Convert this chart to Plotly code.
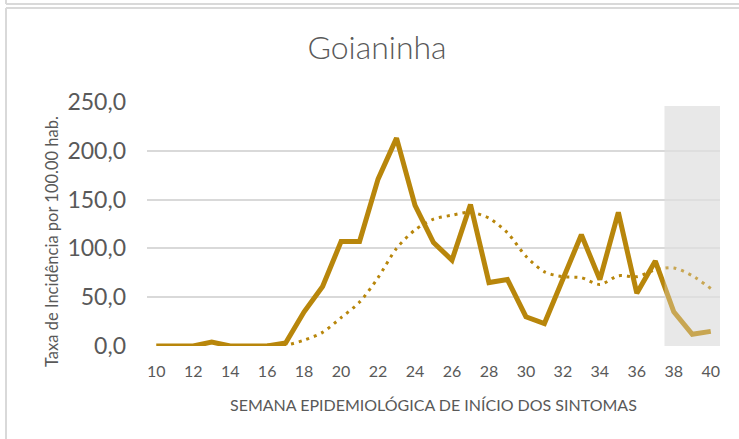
import plotly.graph_objects as go

# ---- data ----
weeks = [10, 11, 12, 13, 14, 15, 16, 17, 18, 19, 20, 21, 22, 23, 24, 25,
         26, 27, 28, 29, 30, 31, 32, 33, 34, 35, 36, 37, 38, 39, 40]
incidence = [0, 0, 0, 4, 0, 0, 0, 3, 35, 61, 107, 107, 171, 213, 144, 106,
             88, 145, 65, 68, 30, 23, 68, 114, 68, 137, 54, 87, 35, 12, 15]
trend_weeks = [16, 17, 18, 19, 20, 21, 22, 23, 24, 25, 26, 27, 28,
               29, 30, 31, 32, 33, 34, 35, 36, 37, 38, 39, 40]
trend = [1, 1, 6, 14, 29, 45, 70, 100, 119, 130, 134, 137, 131,
         116, 92, 76, 71, 70, 63, 72, 71, 78, 80, 72, 59]
x_ticks = [10, 12, 14, 16, 18, 20, 22, 24, 26, 28, 30, 32, 34, 36, 38, 40]
y_ticks = [0, 50, 100, 150, 200, 250]
y_tick_labels = ["0,0", "50,0", "100,0", "150,0", "200,0", "250,0"]

W, H = 739, 439
L, R, T, B = 147, 19, 102, 93
FONT = "Lato"
GREY = "#595959"
GOLD = "#B8860B"

fig = go.Figure()
fig.add_trace(go.Scatter(
    x=trend_weeks, y=trend, mode="lines",
    line=dict(color=GOLD, width=3, dash="3px,5px", shape="spline", smoothing=0.8),
    hoverinfo="skip", showlegend=False))
fig.add_trace(go.Scatter(
    x=weeks, y=incidence, mode="lines",
    line=dict(color=GOLD, width=5), showlegend=False))

pw, ph = W - L - R, H - T - B
def px(x):
    return (x - L) / pw
def py(y):
    return (H - B - y) / ph

shapes = [
    # shaded recent weeks
    dict(type="rect", xref="x", yref="y", x0=37.5, x1=40.5, y0=0, y1=246,
         fillcolor="#E8E8E8", line_width=0, layer="below"),
    dict(type="rect", xref="x", yref="y", x0=37.5, x1=40.5, y0=0, y1=246,
         fillcolor="rgba(232,232,232,0.32)", line_width=0, layer="above"),
    # frame lines
    dict(type="line", xref="paper", yref="paper", x0=px(6), x1=px(W + 5), y0=py(4), y1=py(4),
         line=dict(color="#D9D9D9", width=2)),
    dict(type="line", xref="paper", yref="paper", x0=px(6), x1=px(6), y0=py(-2), y1=py(4),
         line=dict(color="#D9D9D9", width=2)),
    dict(type="line", xref="paper", yref="paper", x0=px(6), x1=px(W + 5), y0=py(8), y1=py(8),
         line=dict(color="#D9D9D9", width=2)),
    dict(type="line", xref="paper", yref="paper", x0=px(6), x1=px(6), y0=py(8), y1=py(H + 5),
         line=dict(color="#D9D9D9", width=2)),
]

annotations = [
    dict(text="SEMANA EPIDEMIOLÓGICA DE INÍCIO DOS SINTOMAS", xref="paper", yref="paper",
         x=px(433), y=py(404), xanchor="center", yanchor="middle", showarrow=False,
         font=dict(size=16, color=GREY, family=FONT)),
    dict(text="Taxa de Incidência por 100.00 hab.", xref="paper", yref="paper",
         x=px(52), y=py(242), xanchor="center", yanchor="middle", showarrow=False,
         textangle=-90, font=dict(size=16.5, color=GREY, family=FONT)),
]

fig.update_layout(
    width=W, height=H,
    margin=dict(l=L, r=R, t=T, b=B),
    paper_bgcolor="white", plot_bgcolor="white",
    font=dict(family=FONT, color=GREY),
    title=dict(text="Goianinha", x=377 / W, xref="container", xanchor="center",
               y=1 - 48 / H, yref="container", yanchor="middle",
               font=dict(size=32, color=GREY, weight=300)),
    shapes=shapes,
    annotations=annotations,
    xaxis=dict(range=[9.5, 40.5], tickvals=x_ticks, ticktext=[str(v) for v in x_ticks],
               showgrid=False, zeroline=False, showline=False, ticks="",
               ticklabelstandoff=14,
               tickfont=dict(size=16, color=GREY)),
    yaxis=dict(range=[0, 250], tickvals=y_ticks, ticktext=y_tick_labels,
               showgrid=True, gridcolor="#D9D9D9", gridwidth=1.5,
               zeroline=False, showline=False, ticks="",
               ticklabelstandoff=20,
               tickfont=dict(size=23, color=GREY)),
)

fig.write_html("out.html", config={"displayModeBar": False},
               post_script="document.body.style.margin='0';")
